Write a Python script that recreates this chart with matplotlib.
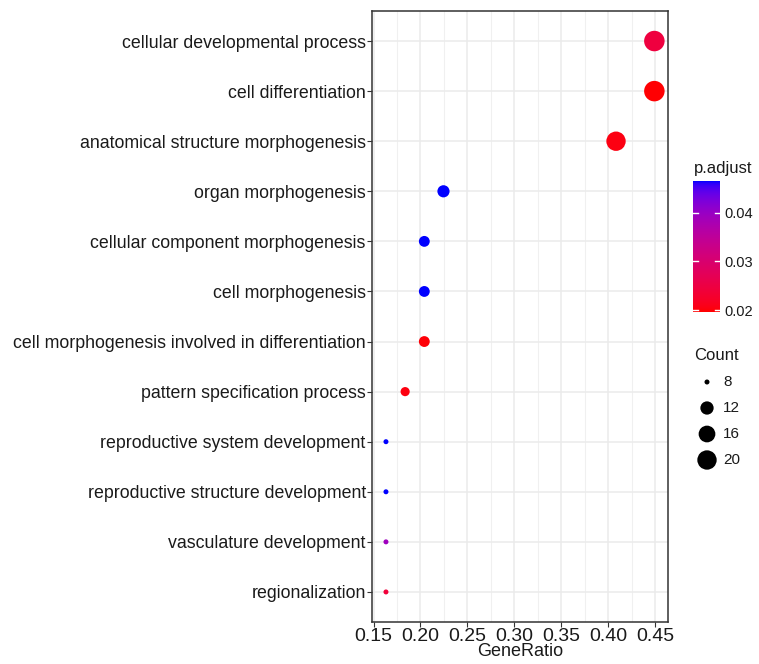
import numpy as np
import matplotlib
matplotlib.use("Agg")
import matplotlib.pyplot as plt
from matplotlib.colors import ListedColormap, Normalize

plt.rcParams['font.family'] = ['Liberation Sans', 'DejaVu Sans']

terms = ['cellular developmental process', 'cell differentiation',
         'anatomical structure morphogenesis', 'organ morphogenesis',
         'cellular component morphogenesis', 'cell morphogenesis',
         'cell morphogenesis involved in differentiation',
         'pattern specification process', 'reproductive system development',
         'reproductive structure development', 'vasculature development',
         'regionalization']
counts = [22, 22, 20, 11, 10, 10, 10, 9, 8, 8, 8, 8]
set_size = 49
p_adjust = [0.0245, 0.0198, 0.0205, 0.0465, 0.0465, 0.0465, 0.0200, 0.0203,
            0.0465, 0.0465, 0.0392, 0.0240]
size_breaks = [8, 12, 16, 20]
p_ticks = [0.02, 0.03, 0.04]


def srgb_to_lab(rgb):
    rgb = np.asarray(rgb, float)
    lin = np.where(rgb <= 0.04045, rgb / 12.92, ((rgb + 0.055) / 1.055) ** 2.4)
    m = np.array([[0.4124, 0.3576, 0.1805],
                  [0.2126, 0.7152, 0.0722],
                  [0.0193, 0.1192, 0.9505]])
    xyz = m @ lin / np.array([0.95047, 1.0, 1.08883])
    f = np.where(xyz > 0.008856, np.cbrt(xyz), 7.787 * xyz + 16 / 116)
    return np.array([116 * f[1] - 16, 500 * (f[0] - f[1]), 200 * (f[1] - f[2])])


def lab_to_srgb(lab):
    L, a, b = lab
    fy = (L + 16) / 116
    f = np.array([fy + a / 500, fy, fy - b / 200])
    xyz = np.where(f ** 3 > 0.008856, f ** 3, (f - 16 / 116) / 7.787)
    xyz = xyz * np.array([0.95047, 1.0, 1.08883])
    m = np.array([[3.2406, -1.5372, -0.4986],
                  [-0.9689, 1.8758, 0.0415],
                  [0.0557, -0.2040, 1.0570]])
    lin = np.clip(m @ xyz, 0, 1)
    rgb = np.where(lin <= 0.0031308, 12.92 * lin, 1.055 * lin ** (1 / 2.4) - 0.055)
    return np.clip(rgb, 0, 1)


# red -> blue gradient interpolated in Lab, like ggplot
lab_lo = srgb_to_lab([1, 0, 0])
lab_hi = srgb_to_lab([0, 0, 1])
cmap = ListedColormap([lab_to_srgb(lab_lo + t * (lab_hi - lab_lo))
                       for t in np.linspace(0, 1, 256)])
p_min, p_max = 0.0196, 0.0465
norm = Normalize(p_min, p_max)

c_min, c_max = min(counts), max(counts)
d_min, d_max = 5.0, 20.5  # dot diameters in px


def dot_size(c):
    d = d_min + (d_max - d_min) * np.sqrt((np.asarray(c, float) - c_min) / (c_max - c_min))
    return (d * 0.72) ** 2


fig = plt.figure(figsize=(7.59, 6.64), dpi=100)
ax = fig.add_axes([372 / 759, 1 - 622 / 664, 296 / 759, 611 / 664])

ratio = np.array(counts) / set_size
ypos = np.arange(len(terms))[::-1]
ax.scatter(ratio, ypos, s=dot_size(counts), c=cmap(norm(p_adjust)),
           linewidths=0, zorder=3)

xt = np.arange(0.15, 0.451, 0.05)
ax.set_xlim(0.1484, 0.4635)
ax.set_ylim(-0.6, len(terms) - 0.4)
ax.set_xticks(xt)
ax.set_xticks(xt[:-1] + 0.025, minor=True)
ax.set_xticklabels(['%.2f' % v for v in xt])
ax.set_yticks(ypos)
ax.set_yticklabels(terms)
ax.grid(True, which='major', color='#EBEBEB', lw=1.1, zorder=0)
ax.grid(True, which='minor', axis='x', color='#F0F0F0', lw=0.8, zorder=0)
ax.tick_params(axis='y', labelsize=12.75, length=3.5, color='#333333',
               labelcolor='#1A1A1A', pad=1)
ax.tick_params(axis='x', labelsize=14, length=3.5, color='#333333',
               labelcolor='#1A1A1A', pad=0.5)
ax.tick_params(which='minor', length=0)
for sp in ax.spines.values():
    sp.set_color('#333333')
    sp.set_linewidth(1.1)
ax.set_xlabel('GeneRatio', fontsize=13, color='#1A1A1A', labelpad=-1)

# colour bar legend
fig.text(694 / 759, 1 - 168 / 664, 'p.adjust', fontsize=12, color='#1A1A1A',
         va='center', ha='left')
cax = fig.add_axes([693 / 759, 1 - 312 / 664, 27 / 759, 131 / 664])
grad = np.linspace(p_min, p_max, 256).reshape(-1, 1)
cax.imshow(grad, aspect='auto', cmap=cmap, norm=norm, origin='lower',
           extent=[0, 1, p_min, p_max])
cax.set_xlim(0, 1)
cax.set_ylim(p_min, p_max)
cax.set_xticks([])
cax.yaxis.tick_right()
cax.set_yticks(p_ticks)
cax.set_yticklabels(['%.2f' % v for v in p_ticks])
cax.tick_params(axis='y', length=0, labelsize=10.5, labelcolor='#1A1A1A', pad=3)
for v in p_ticks:
    cax.plot([0, 0.2], [v, v], color='white', lw=1)
    cax.plot([0.8, 1], [v, v], color='white', lw=1)
for sp in cax.spines.values():
    sp.set_visible(False)

# size legend (axes in pixel coordinates of the figure)
lax = fig.add_axes([0, 0, 1, 1], facecolor='none')
lax.set_xlim(0, 759)
lax.set_ylim(664, 0)
lax.axis('off')
lax.text(694, 355, 'Count', fontsize=12, color='#1A1A1A', va='center', ha='left')
key_y = [382, 408, 434, 460]
lax.scatter([707] * len(size_breaks), key_y, s=dot_size(size_breaks),
            color='black', linewidths=0)
for yy, c in zip(key_y, size_breaks):
    lax.text(723, yy, str(c), fontsize=11, color='#1A1A1A',
             va='center', ha='left')

fig.savefig('out.png', dpi=100)
